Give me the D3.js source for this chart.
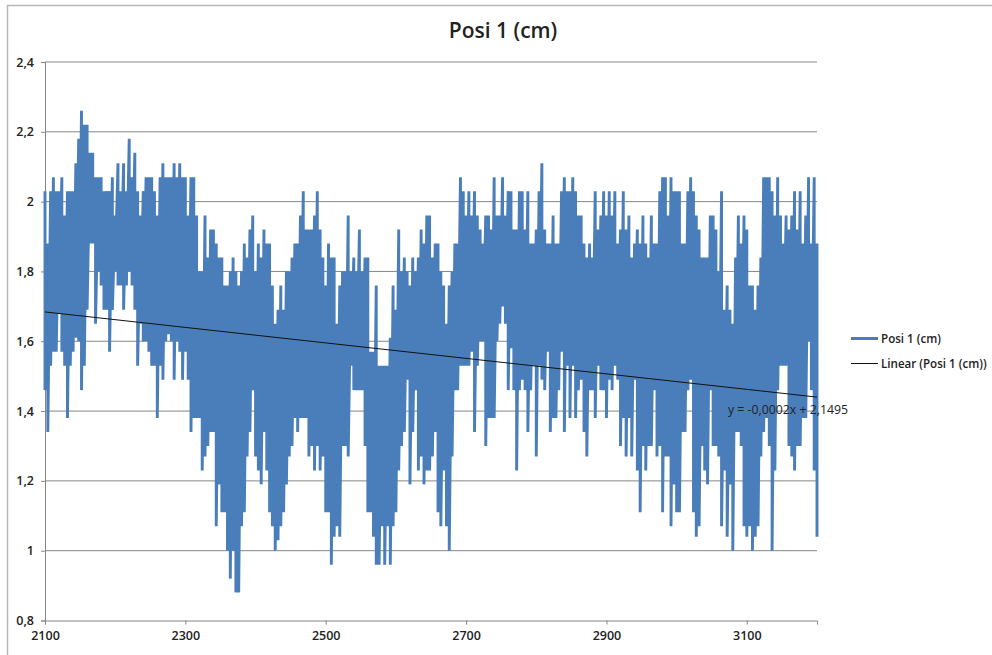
<!DOCTYPE html>
<html>
<head>
<meta charset="utf-8">
<title>Posi 1 (cm)</title>
<script src="https://cdn.jsdelivr.net/npm/d3@7"></script>
<style>
    html, body { margin: 0; padding: 0; background: #fff; }
    svg { display: block; }
    text { font-family: "Open Sans", "Noto Sans", sans-serif; fill: #222; }
</style>
</head>
<body>
<svg id="chart" width="992" height="655"></svg>
<script>
var chartTitle = "Posi 1 (cm)";
var seriesName = "Posi 1 (cm)";
var trendName = "Linear (Posi 1 (cm))";
var trendLabel = "y = -0,0002x + 2,1495";

var xTicks = [2100, 2300, 2500, 2700, 2900, 3100];
var yTicks = [0.8, 1, 1.2, 1.4, 1.6, 1.8, 2, 2.2, 2.4];

var trendX = [2100, 3200];
var trendY = [1.684, 1.44];

/* one high/low pair for each 4 x units */
var sampleStep = 4;
var highs = [
    2.03,1.88,2.03,2.07,2.03,2.03,2.07,1.96,2.03,2.03,
    2.03,2.11,2.18,2.26,2.22,2.22,2.14,2.14,2.07,2.07,
    2.07,2.03,2.03,2.03,2.07,1.96,2.11,2.03,2.11,2.03,
    2.18,2.07,2.14,2.03,1.96,2.03,2.07,2.07,2.07,2.03,
    1.96,2.07,2.11,2.07,2.07,2.07,2.11,2.07,2.11,2.07,
    2.07,1.96,2.07,2.07,1.96,1.80,1.80,1.96,1.84,1.92,
    1.92,1.88,1.84,1.84,1.76,1.76,1.80,1.84,1.80,1.76,
    1.80,1.88,1.84,1.92,1.96,1.80,1.88,1.84,1.92,1.88,
    1.88,1.76,1.65,1.69,1.76,1.69,1.80,1.80,1.84,1.88,
    1.88,1.96,2.03,1.92,1.92,1.92,1.96,2.03,1.92,1.84,
    1.76,1.88,1.84,1.84,1.65,1.76,1.80,1.80,1.96,1.80,
    1.84,1.80,1.92,1.80,1.84,1.84,1.57,1.57,1.76,1.53,
    1.53,1.53,1.53,1.61,1.76,1.69,1.92,1.80,1.84,1.80,
    1.76,1.84,1.80,1.84,1.92,1.88,1.96,1.96,1.84,1.88,
    1.88,1.80,1.76,1.65,1.76,1.80,1.88,1.88,2.07,2.03,
    1.96,2.03,1.96,2.03,1.96,1.92,1.88,1.96,1.96,1.92,
    2.07,1.96,1.96,2.07,1.96,2.03,2.03,1.92,1.92,2.03,
    2.03,1.92,2.03,1.88,1.88,1.92,2.03,2.11,1.92,1.88,
    1.88,1.96,1.88,1.88,2.03,2.07,2.03,2.03,2.07,2.03,
    1.96,1.96,1.88,1.84,1.88,1.84,2.03,1.92,1.96,2.03,
    1.96,2.03,1.96,2.03,1.88,1.92,2.03,1.92,1.96,1.84,
    1.88,1.92,1.88,1.96,1.88,1.84,1.96,1.88,1.88,2.03,
    2.07,2.07,1.96,2.07,2.03,2.03,2.03,1.88,1.88,2.03,
    2.07,2.03,1.96,1.92,1.84,1.84,1.84,1.96,1.96,1.92,
    1.80,2.03,1.69,1.76,1.69,1.65,1.84,1.96,1.88,1.96,
    1.92,1.76,1.76,1.69,1.76,1.84,2.07,2.07,2.07,2.03,
    1.96,2.07,1.96,1.88,1.96,1.92,1.96,2.03,1.92,2.03,
    1.88,1.96,2.07,1.88,2.07,1.88
];
var lows = [
    1.46,1.34,1.53,1.57,1.57,1.68,1.57,1.53,1.38,1.53,
    1.57,1.61,1.60,1.46,1.53,1.69,1.88,1.88,1.65,1.80,
    1.76,1.69,1.69,1.57,1.69,1.80,1.76,1.76,1.69,1.76,
    1.80,1.76,1.69,1.53,1.65,1.60,1.60,1.57,1.53,1.53,
    1.38,1.53,1.49,1.60,1.62,1.60,1.49,1.60,1.57,1.49,
    1.57,1.49,1.34,1.38,1.38,1.38,1.23,1.27,1.30,1.34,
    1.34,1.07,1.19,1.11,1.11,1.00,0.92,1.00,0.88,0.88,
    1.07,1.11,1.27,1.34,1.46,1.27,1.23,1.19,1.34,1.23,
    1.11,1.07,1.00,1.03,1.07,1.11,1.19,1.27,1.30,1.38,
    1.34,1.38,1.38,1.38,1.27,1.30,1.23,1.30,1.23,1.27,
    1.11,1.11,0.96,1.04,1.07,1.04,1.30,1.30,1.27,1.53,
    1.46,1.46,1.46,1.46,1.30,1.11,1.11,1.04,0.96,0.96,
    1.07,0.96,1.07,0.96,1.07,1.11,1.23,1.30,1.34,1.49,
    1.19,1.34,1.46,1.23,1.27,1.19,1.23,1.23,1.27,1.34,
    1.11,1.07,1.23,1.07,1.00,1.27,1.46,1.46,1.53,1.53,
    1.53,1.53,1.57,1.34,1.53,1.60,1.60,1.30,1.38,1.38,
    1.38,1.60,1.65,1.70,1.65,1.46,1.58,1.46,1.23,1.46,
    1.49,1.46,1.34,1.46,1.53,1.27,1.53,1.49,1.46,1.57,
    1.34,1.38,1.38,1.46,1.57,1.34,1.53,1.38,1.53,1.38,
    1.46,1.49,1.34,1.27,1.46,1.46,1.38,1.53,1.46,1.46,
    1.38,1.49,1.46,1.53,1.49,1.30,1.38,1.27,1.38,1.27,
    1.49,1.23,1.11,1.30,1.23,1.30,1.30,1.46,1.27,1.30,
    1.11,1.27,1.27,1.07,1.19,1.11,1.11,1.34,1.34,1.46,
    1.49,1.11,1.04,1.07,1.30,1.23,1.19,1.46,1.30,1.30,
    1.27,1.07,1.23,1.04,1.19,1.00,1.34,1.34,1.30,1.07,
    1.04,1.07,1.00,1.04,1.07,1.27,1.34,1.38,1.30,1.00,
    1.23,1.46,1.53,1.53,1.53,1.30,1.27,1.23,1.30,1.30,
    1.38,1.38,1.60,1.46,1.23,1.04
];

var lineBlue = "#4a7ebb";
var axisGrey = "#868686";

var svg = d3.select("#chart");

var x = d3.scaleLinear().domain([2100, 3200]).range([45, 817]);
var y = d3.scaleLinear().domain([0.8, 2.4]).range([620.5, 62]);

/* outer chart frame */
svg.append("path")
    .attr("d", "M7.5,655V5.5H992")
    .attr("fill", "none")
    .attr("stroke", "#b8b8b8")
    .attr("stroke-width", 1.5);

svg.append("text")
    .attr("x", 503)
    .attr("y", 38)
    .attr("text-anchor", "middle")
    .attr("font-size", 21)
    .attr("font-weight", 600)
    .text(chartTitle);

/* gridlines */
svg.append("g")
    .selectAll("line")
    .data(yTicks.filter(function(d) { return d > 0.8; }))
    .join("line")
    .attr("x1", x(2100))
    .attr("x2", x(3200))
    .attr("y1", function(d) { return y(d); })
    .attr("y2", function(d) { return y(d); })
    .attr("stroke", axisGrey)
    .attr("stroke-width", 1);

var yAxis = d3.axisLeft(y)
    .tickValues(yTicks)
    .tickSize(4)
    .tickPadding(7)
    .tickFormat(function(d) { return String(d).replace(".", ","); });

var xAxis = d3.axisBottom(x)
    .tickValues(xTicks)
    .tickSize(4)
    .tickPadding(7)
    .tickFormat(d3.format("d"));

[svg.append("g").attr("transform", "translate(45,0)").call(yAxis),
 svg.append("g").attr("transform", "translate(0,620.5)").call(xAxis)].forEach(function(g) {
    g.selectAll("path, line").attr("stroke", axisGrey);
    g.selectAll("text")
        .attr("font-size", 12.5)
        .attr("font-weight", 600)
        .attr("font-family", '"Open Sans", "Noto Sans", sans-serif')
        .attr("fill", "#222");
});

/* series goes high, low, high, low through every sample */
var zigzag = [];
highs.forEach(function(h, i) {
    var xVal = 2100 + i * sampleStep;
    zigzag.push([xVal, h]);
    zigzag.push([xVal, lows[i]]);
});

var line = d3.line()
    .x(function(d) { return x(d[0]); })
    .y(function(d) { return y(d[1]); });

svg.append("path")
    .attr("d", line(zigzag))
    .attr("fill", "none")
    .attr("stroke", lineBlue)
    .attr("stroke-width", 2.9)
    .attr("stroke-linejoin", "bevel");

/* trendline */
svg.append("path")
    .attr("d", line(trendX.map(function(d, i) { return [d, trendY[i]]; })))
    .attr("fill", "none")
    .attr("stroke", "#111")
    .attr("stroke-width", 1);

svg.append("text")
    .attr("x", 728)
    .attr("y", 414)
    .attr("font-size", 12.3)
    .attr("fill", "#222")
    .text(trendLabel);

/* legend */
var legend = svg.append("g");
legend.append("line")
    .attr("x1", 851).attr("x2", 878)
    .attr("y1", 338.5).attr("y2", 338.5)
    .attr("stroke", lineBlue)
    .attr("stroke-width", 3);
legend.append("text")
    .attr("x", 881).attr("y", 342.5)
    .attr("font-size", 11.6)
    .attr("font-weight", 600)
    .text(seriesName);
legend.append("line")
    .attr("x1", 851).attr("x2", 878)
    .attr("y1", 363.5).attr("y2", 363.5)
    .attr("stroke", "#111")
    .attr("stroke-width", 1);
legend.append("text")
    .attr("x", 881).attr("y", 367.5)
    .attr("font-size", 11.6)
    .attr("font-weight", 600)
    .text(trendName);
</script>
</body>
</html>
